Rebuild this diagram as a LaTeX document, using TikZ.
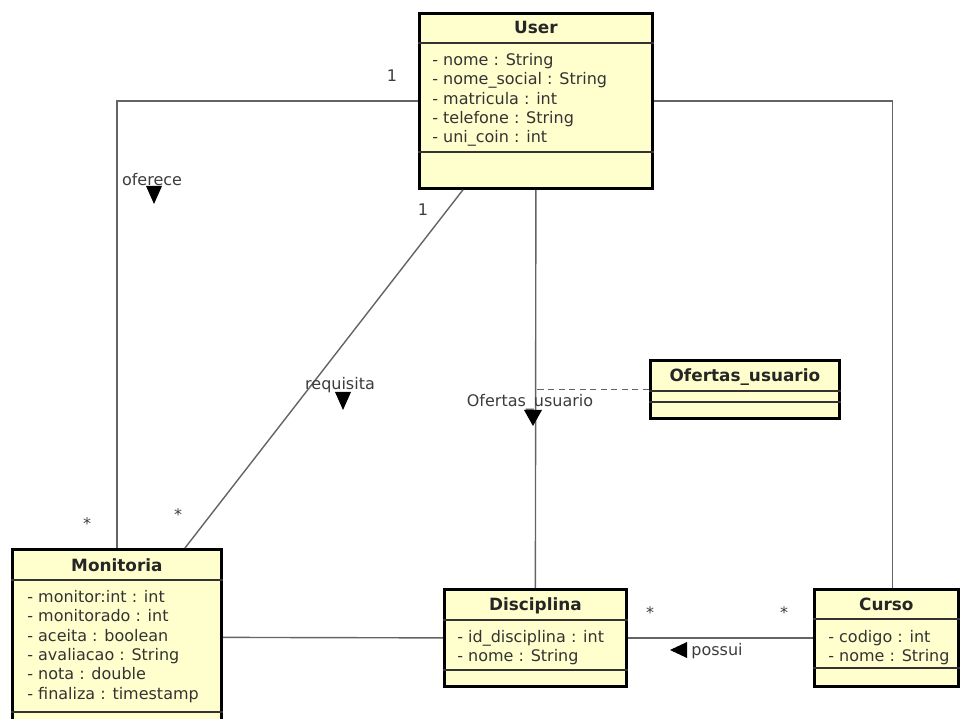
\documentclass[tikz,border=0pt]{standalone}
\usepackage{fontspec}
\setmainfont{DejaVu Sans}
\usetikzlibrary{calc}

\definecolor{classfill}{RGB}{255,255,206}
\definecolor{linegray}{RGB}{100,100,100}
\definecolor{textgray}{RGB}{60,60,60}

\tikzset{
  classbox/.style={draw=black, line width=1.6pt, fill=classfill, anchor=north west, inner sep=0pt},
  sepline/.style={draw=black!80, line width=1pt},
  title/.style={font=\fontsize{9.6}{11}\selectfont\bfseries, text=black!85, anchor=base, inner sep=0pt},
  attrs/.style={font=\fontsize{9.1}{11}\selectfont, text=black!80, align=left, anchor=north west, inner sep=0pt},
  assoc/.style={draw=linegray, line width=0.8pt},
  lbl/.style={font=\fontsize{9.1}{11}\selectfont, text=textgray, inner sep=0pt},
}

\begin{document}
\begin{tikzpicture}[x=0.02cm, y=-0.02cm]
    \clip (0,0) rectangle (960,719);

    % Class boxes
    \node[classbox, minimum width=4.66cm, minimum height=3.5cm] (user) at (418,12) {};
    \node[classbox, minimum width=4.18cm, minimum height=3.52cm] (monitoria) at (11,548) {};
    \node[classbox, minimum width=3.64cm, minimum height=1.94cm] (disciplina) at (443,588) {};
    \node[classbox, minimum width=2.88cm, minimum height=1.94cm] (curso) at (813,588) {};
    \node[classbox, minimum width=3.78cm, minimum height=1.16cm] (ofertas) at (649,359) {};

    % Compartment lines
    \draw[sepline] ($(user.north west)+(0,31)$) -- ($(user.north east)+(0,31)$);
    \draw[sepline] ($(user.north west)+(0,140)$) -- ($(user.north east)+(0,140)$);
    \draw[sepline] ($(monitoria.north west)+(0,32)$) -- ($(monitoria.north east)+(0,32)$);
    \draw[sepline] ($(monitoria.north west)+(0,164)$) -- ($(monitoria.north east)+(0,164)$);
    \draw[sepline] ($(disciplina.north west)+(0,32)$) -- ($(disciplina.north east)+(0,32)$);
    \draw[sepline] ($(disciplina.north west)+(0,82)$) -- ($(disciplina.north east)+(0,82)$);
    \draw[sepline] ($(curso.north west)+(0,31)$) -- ($(curso.north east)+(0,31)$);
    \draw[sepline] ($(curso.north west)+(0,80)$) -- ($(curso.north east)+(0,80)$);
    \draw[sepline] ($(ofertas.north west)+(0,32)$) -- ($(ofertas.north east)+(0,32)$);
    \draw[sepline] ($(ofertas.north west)+(0,43)$) -- ($(ofertas.north east)+(0,43)$);

    % Class names
    \node[title] (usertitle) at ($(user.north)+(0,22)$) {User};
    \node[title] (monitoriatitle) at ($(monitoria.north)+(0,23)$) {Monitoria};
    \node[title] (disciplinatitle) at ($(disciplina.north)+(0,22)$) {Disciplina};
    \node[title] (cursotitle) at ($(curso.north)+(0,22)$) {Curso};
    \node[title] (ofertastitle) at ($(ofertas.north)+(0,22)$) {Ofertas\_usuario};

    % Attributes
    \node[attrs] (userattrs) at ($(user.north west)+(14,41)$)
        {- nome : String\\- nome\_social : String\\- matricula : int\\- telefone : String\\- uni\_coin : int};
    \node[attrs] (monitoriaattrs) at ($(monitoria.north west)+(16,42)$)
        {- monitor:int : int\\- monitorado : int\\- aceita : boolean\\- avaliacao : String\\- nota : double\\- finaliza : timestamp};
    \node[attrs] (disciplinaattrs) at ($(disciplina.north west)+(14,42)$)
        {- id\_disciplina : int\\- nome : String};
    \node[attrs] (cursoattrs) at ($(curso.north west)+(15,42)$)
        {- codigo : int\\- nome : String};

    % Associations
    \draw[assoc] (user.west) -| (monitoria.north);
    \draw[assoc] ([xshift=0.9cm]user.south west) -- ([xshift=3.48cm]monitoria.north west);
    \draw[assoc] (user.south) -- (disciplina.north);
    \draw[assoc] (user.east) -| ([xshift=0.12cm]curso.north);
    \draw[assoc] (monitoria.east) -- (disciplina.west);
    \draw[assoc] (disciplina.east) -- (curso.west);
    \draw[assoc, dash pattern=on 3.5pt off 2.5pt] (ofertas.west) -- (ofertas.west -| user.south);

    % Multiplicities
    \node[lbl] (m1) at (392,76) {1};
    \node[lbl] (m2) at (423,210) {1};
    \node[lbl] (m3) at (87,524) {*};
    \node[lbl] (m4) at (178,515) {*};
    \node[lbl] (m5) at (650,613) {*};
    \node[lbl] (m6) at (784,613) {*};

    % Association names with direction triangles
    \node[lbl] (oferece) at (152,180) {oferece};
    \fill ($(oferece.center)+(-6,6)$) -- ++(16,0) -- ++(-8,18) -- cycle;
    \node[lbl] (requisita) at (340,385) {requisita};
    \fill ($(requisita.center)+(-5,7)$) -- ++(16,0) -- ++(-8,18) -- cycle;
    \node[lbl] (ofertaslbl) at (530,402) {Ofertas\_usuario};
    \fill ($(ofertaslbl.center)+(-6,8)$) -- ++(18,0) -- ++(-9,16) -- cycle;
    \node[lbl] (possui) at (717,651) {possui};
    \fill ($(possui.center)+(-47,-1)$) -- ++(17,-8) -- ++(0,16) -- cycle;
\end{tikzpicture}
\end{document}
